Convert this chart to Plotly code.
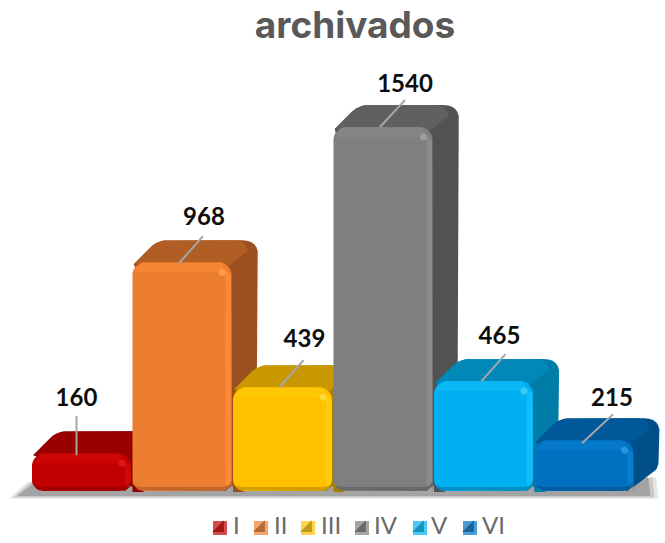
import numpy as np
import plotly.graph_objects as go

TITLE = "archivados"
CATEGORIES = ["I", "II", "III", "IV", "V", "VI"]
VALUES = [160, 968, 439, 1540, 465, 215]

FRONT = ["#C00000", "#ED7D31", "#FFC000", "#7F7F7F", "#00B0F0", "#0070C0"]
BEVEL = ["#CC0505", "#F58433", "#FFC806", "#858585", "#0AB8F8", "#0478CA"]
RIGHT = ["#D20808", "#FB8936", "#FFCE0A", "#8A8A8A", "#10BEFC", "#077CD0"]
EDGE = ["#A00000", "#C26629", "#D29E00", "#6A6A6A", "#0090C5", "#005C9E"]
TOP = ["#990000", "#B15E25", "#C99700", "#606060", "#0088B8", "#00589A"]
SIDE = ["#8A0000", "#9C5020", "#A88000", "#525252", "#007CA8", "#004F88"]
SPOT = ["#F02020", "#FFAA60", "#FFE050", "#A8A8A8", "#50D4FF", "#3AA0E8"]
# leader start offset in px from the front top centre, leader extent, label offset
LEADER_START = [(-5, 2), (-3, 1), (-3, 0), (-3, 0), (-2, 0), (-2, 3)]
LEADER = [(0, 39), (24, 27), (24, 27), (25, 27), (24, 27), (31, 29)]
LABEL = [(0, 16), (1, 17), (1, 19), (0, 14), (-6, 16), (-1, 14)]
# hand-placed legend row, px
LEGEND_SWATCH = [220, 261, 308, 362, 420, 470]
LEGEND_TEXT = [233, 274, 321, 374, 431, 482]
LEGEND_Y = 528

W, H = 665, 543
SX = 100.5          # px per category step
SY = 364 / 1540     # px per value unit
X0PX = 81.5         # pixel of first bar centre
Y0PX = 491          # pixel of baseline
DX, DY = 26, 22     # depth, px
HALF = 0.5
SHADOW = "#A4A4A4"


def to_px(x, y):
    return X0PX + x * SX, Y0PX - y * SY


def to_data(px, py):
    return (px - X0PX) / SX, (Y0PX - py) / SY


def rounded(points, radii):
    """points are in px; closed polygon with rounded corners, returned in data units"""
    out = []
    n = len(points)
    for i in range(n):
        p = np.array(points[i], float)
        a = np.array(points[i - 1], float)
        b = np.array(points[(i + 1) % n], float)
        r = radii[i]
        if r <= 0:
            out.append(p)
            continue
        r1 = min(r, np.linalg.norm(a - p) / 2)
        r2 = min(r, np.linalg.norm(b - p) / 2)
        s = p + (a - p) / np.linalg.norm(a - p) * r1
        e = p + (b - p) / np.linalg.norm(b - p) * r2
        for t in np.linspace(0, 1, 7):
            out.append((1 - t) ** 2 * s + 2 * t * (1 - t) * p + t ** 2 * e)
    xs, ys = zip(*[to_data(*q) for q in out])
    return list(xs) + [xs[0]], list(ys) + [ys[0]]


def poly(points, radii, color, axes="xy"):
    xs, ys = rounded(points, radii)
    return go.Scatter(
        x=xs, y=ys, mode="lines", fill="toself", fillcolor=color,
        line=dict(width=0), hoverinfo="skip", showlegend=False,
        xaxis="x" if axes == "xy" else "x2", yaxis="y" if axes == "xy" else "y2",
    )


fig = go.Figure()

# floor shadow, three soft layers
left = to_px(-HALF, 0)[0]
right = to_px(len(VALUES) - 1 + HALF, 0)[0]
for grow, colour in ((8, "#E6E6E6"), (4, "#C8C8C8"), (0, SHADOW)):
    fig.add_trace(poly([(left - 14 - grow, Y0PX + 5 + grow / 3), (left + 4 - grow, Y0PX - 9),
                        (right, Y0PX - 9), (right + 14 + grow, Y0PX - 14), (right + 16 + grow, Y0PX + 5 + grow / 3)],
                       [0] * 5, colour))

# depth faces, painted left to right
for i, v in enumerate(VALUES):
    x0, top = to_px(i - HALF, v)
    x1, base = to_px(i + HALF, 0)
    fig.add_trace(poly(
        [(x1 - 6, base), (x1 + DX - 2, base - 22), (x1 + DX, top - DY), (x0 + DX, top - DY), (x0 + 2, top + 2)],
        [0, 7, 16, 10, 0], SIDE[i]))
    fig.add_trace(poly(
        [(x1 - 4, top + 4), (x1 + DX - 10, top - DY + 10), (x1 + DX - 16, top - DY), (x0 + DX, top - DY), (x0 + 2, top + 2)],
        [0, 0, 8, 10, 0], TOP[i]))

# front faces: the real bars
for i, v in enumerate(VALUES):
    fig.add_trace(go.Bar(
        x=[i], y=[v], width=0.985, name=CATEGORIES[i],
        marker=dict(color=FRONT[i], line=dict(width=0), cornerradius=13),
        xaxis="x2", yaxis="y2", hoverinfo="name+y", showlegend=False,
    ))


def closed(pts, colour):
    dx_, dy_ = zip(*[to_data(*q) for q in pts])
    return go.Scatter(x=list(dx_) + [dx_[0]], y=list(dy_) + [dy_[0]], mode="lines", fill="toself",
                      fillcolor=colour, line=dict(width=0), hoverinfo="skip", showlegend=False,
                      xaxis="x2", yaxis="y2")


# bevels and bottom corners, on the overlay
for i, v in enumerate(VALUES):
    x0, top = to_px(i - 0.4925, v)
    x1, base = to_px(i + 0.4925, 0)
    bw = 6
    fig.add_trace(poly([(x0 + 10, top + 0.5), (x1 - 10, top + 0.5), (x1 - bw, top + 10), (x0 + 2, top + 10), (x0 + 3, top + 7)],
                       [0] * 5, BEVEL[i], "x2"))
    fig.add_trace(poly([(x1 - bw, top + 8), (x1 - 0.5, top + 13), (x1, base - 10), (x1 - bw, base - 4)], [0] * 4, RIGHT[i], "x2"))
    # bottom rim
    fig.add_trace(poly([(x0, base - 6), (x0 + 9, base - 4), (x1 - 9, base - 4), (x1, base - 6), (x1, base), (x0, base)],
                       [0, 0, 0, 0, 12, 12], EDGE[i], "x2"))
    # notches at the rounded lower corners, showing what lies behind
    arc_l = [(x0 + 11 - 11 * np.cos(t), base - 11 + 11 * np.sin(t)) for t in np.linspace(0, np.pi / 2, 8)]
    arc_r = [(x1 - 11 + 11 * np.cos(t), base - 11 + 11 * np.sin(t)) for t in np.linspace(0, np.pi / 2, 8)]
    fig.add_trace(closed([(x0, base + 1)] + arc_l + [(x0 + 11, base + 1)], SIDE[i - 1] if i else SHADOW))
    fig.add_trace(closed([(x1, base + 1)] + arc_r + [(x1 - 11, base + 1)], SHADOW))
    fig.add_trace(closed(arc_r + [(x1 - 6, base), (x1, base - 5)], SIDE[i]))
    # specular spot
    sx, sy = to_data(x1 - 9, top + 10)
    fig.add_trace(go.Scatter(x=[sx], y=[sy], mode="markers", marker=dict(size=7, color=SPOT[i], opacity=0.7),
                             hoverinfo="skip", showlegend=False, xaxis="x2", yaxis="y2"))

# leaders and labels
for i, v in enumerate(VALUES):
    tx, ty = to_px(i, v)
    sx, sy = tx + LEADER_START[i][0], ty + LEADER_START[i][1]
    ex, ey = sx + LEADER[i][0], sy - LEADER[i][1]
    lx, ly = ex + LABEL[i][0], ey - LABEL[i][1]
    a = to_data(sx, sy)
    b = to_data(ex, ey)
    c = to_data(lx, ly)
    fig.add_trace(go.Scatter(x=[a[0], b[0]], y=[a[1], b[1]], mode="lines", line=dict(color="#A6A6A6", width=2),
                             hoverinfo="skip", showlegend=False, xaxis="x2", yaxis="y2"))
    fig.add_trace(go.Scatter(x=[c[0]], y=[c[1]], mode="text", text=[str(v)], textposition="middle center",
                             textfont=dict(family="Lato", size=24, color="#0D0D0D", weight="bold"),
                             hoverinfo="skip", showlegend=False, xaxis="x2", yaxis="y2"))

# legend row
for i, name in enumerate(CATEGORIES):
    sx, sy = to_data(LEGEND_SWATCH[i], LEGEND_Y)
    tx, _ = to_data(LEGEND_TEXT[i], LEGEND_Y)
    fig.add_trace(go.Scatter(x=[sx, sx], y=[sy, sy], mode="markers",
                             marker=dict(symbol=["square", "triangle-se"], size=[14, 13], color=[FRONT[i], SIDE[i]], line=dict(width=0)),
                             hoverinfo="skip", showlegend=False, xaxis="x2", yaxis="y2"))
    fig.add_trace(go.Scatter(x=[tx], y=[sy], mode="text", text=[name], textposition="middle right",
                             textfont=dict(family="Lato", size=24, color="#6A6A6A"),
                             hoverinfo="skip", showlegend=False, xaxis="x2", yaxis="y2"))

xr = [to_data(0, 0)[0], to_data(W, 0)[0]]
yr = [to_data(0, H)[1], to_data(0, 0)[1]]
axis = dict(visible=False, fixedrange=True)
fig.update_layout(
    width=W, height=H, margin=dict(l=0, r=0, t=0, b=0),
    paper_bgcolor="white", plot_bgcolor="white", barmode="overlay",
    title=dict(text=TITLE, x=355 / W, xanchor="center", y=1 - 25 / H, yanchor="middle",
               font=dict(family="Inter", size=37, color="#595959", weight="bold")),
    xaxis=dict(range=xr, **axis), yaxis=dict(range=yr, **axis),
    xaxis2=dict(range=xr, overlaying="x", **axis), yaxis2=dict(range=yr, overlaying="y", **axis),
    showlegend=False,
)
fig.write_html("out.html", config={"displayModeBar": False}, post_script="document.body.style.margin='0';")
